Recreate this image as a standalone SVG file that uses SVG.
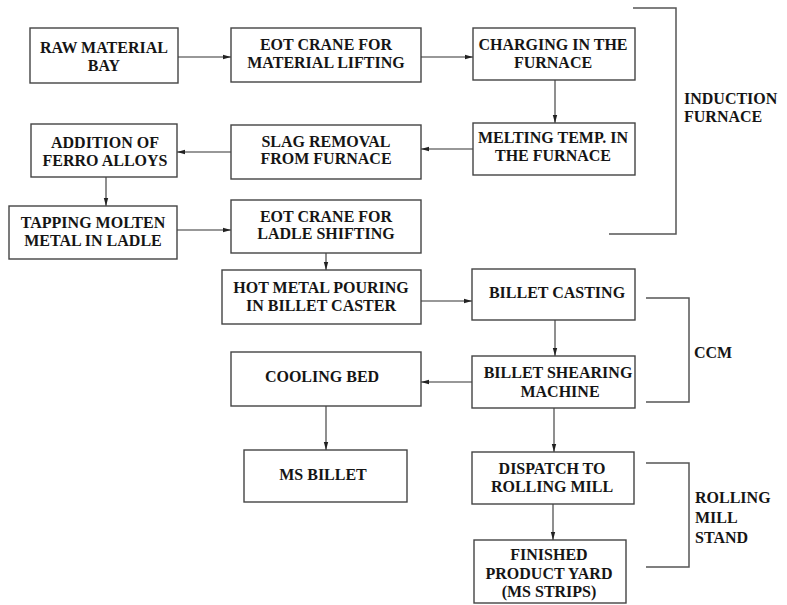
<svg xmlns="http://www.w3.org/2000/svg" width="787" height="605" viewBox="0 0 787 605">
<defs>
<style>
.box{fill:#fff;stroke:#444;stroke-width:1.4}
.t{font-family:"Liberation Serif","Times New Roman",serif;font-weight:bold;font-size:16px;fill:#151515;text-anchor:middle}
.lab{font-family:"Liberation Serif","Times New Roman",serif;font-weight:bold;font-size:16px;fill:#151515}
.c{stroke:#333;stroke-width:1.1;fill:none}
.br{stroke:#555;stroke-width:1.5;fill:none}
</style>
<marker id="ah" markerWidth="8" markerHeight="6" refX="8" refY="3" orient="auto" markerUnits="userSpaceOnUse">
<path d="M0,0.8 L8,3 L0,5.2 Z" fill="#222"/>
</marker>
</defs>
<rect width="787" height="605" fill="#fff"/>

<g id="connectors">
<line class="c" x1="178" y1="57" x2="231" y2="57" marker-end="url(#ah)"/>
<line class="c" x1="421" y1="57" x2="473" y2="57" marker-end="url(#ah)"/>
<line class="c" x1="555" y1="80" x2="555" y2="123" marker-end="url(#ah)"/>
<line class="c" x1="473" y1="149" x2="421" y2="149" marker-end="url(#ah)"/>
<line class="c" x1="231" y1="152" x2="177" y2="152" marker-end="url(#ah)"/>
<line class="c" x1="106" y1="177" x2="106" y2="206" marker-end="url(#ah)"/>
<line class="c" x1="177" y1="230" x2="231" y2="230" marker-end="url(#ah)"/>
<line class="c" x1="326" y1="253" x2="326" y2="270" marker-end="url(#ah)"/>
<line class="c" x1="421" y1="301" x2="472" y2="301" marker-end="url(#ah)"/>
<line class="c" x1="555" y1="320" x2="555" y2="356" marker-end="url(#ah)"/>
<line class="c" x1="472" y1="382" x2="421" y2="382" marker-end="url(#ah)"/>
<line class="c" x1="326" y1="406" x2="326" y2="450" marker-end="url(#ah)"/>
<line class="c" x1="554" y1="408" x2="554" y2="452" marker-end="url(#ah)"/>
<line class="c" x1="553" y1="504" x2="553" y2="540" marker-end="url(#ah)"/>
</g>

<g id="brackets">
<polyline class="br" points="633,8 676,8 676,234 609,234"/>
<polyline class="br" points="646,298 689,298 689,402 646,402"/>
<polyline class="br" points="646,463 689,463 689,567 646,567"/>
</g>

<g id="raw-material-bay">
<rect class="box" x="30" y="28" width="148" height="55"/>
<text class="t" x="104" y="53">RAW MATERIAL</text>
<text class="t" x="104" y="71">BAY</text>
</g>
<g id="eot-crane-material">
<rect class="box" x="231" y="28" width="190" height="54"/>
<text class="t" x="326" y="50">EOT CRANE FOR</text>
<text class="t" x="326" y="68">MATERIAL LIFTING</text>
</g>
<g id="charging">
<rect class="box" x="473" y="28" width="162" height="52"/>
<text class="t" x="553" y="50">CHARGING IN THE</text>
<text class="t" x="553" y="68">FURNACE</text>
</g>
<g id="melting">
<rect class="box" x="473" y="123" width="162" height="52"/>
<text class="t" x="553" y="143">MELTING TEMP. IN</text>
<text class="t" x="553" y="161">THE FURNACE</text>
</g>
<g id="slag-removal">
<rect class="box" x="231" y="125" width="190" height="54"/>
<text class="t" x="326" y="147">SLAG REMOVAL</text>
<text class="t" x="326" y="164">FROM FURNACE</text>
</g>
<g id="ferro-alloys">
<rect class="box" x="31" y="124" width="146" height="53"/>
<text class="t" x="105" y="148">ADDITION OF</text>
<text class="t" x="105" y="166">FERRO ALLOYS</text>
</g>
<g id="tapping">
<rect class="box" x="9" y="206" width="168" height="53"/>
<text class="t" x="93" y="228">TAPPING MOLTEN</text>
<text class="t" x="93" y="246">METAL IN LADLE</text>
</g>
<g id="eot-crane-ladle">
<rect class="box" x="231" y="200" width="190" height="53"/>
<text class="t" x="326" y="222">EOT CRANE FOR</text>
<text class="t" x="326" y="239">LADLE SHIFTING</text>
</g>
<g id="hot-metal-pouring">
<rect class="box" x="222" y="270" width="199" height="54"/>
<text class="t" x="321" y="293">HOT METAL POURING</text>
<text class="t" x="321" y="311">IN BILLET CASTER</text>
</g>
<g id="billet-casting">
<rect class="box" x="472" y="269" width="163" height="51"/>
<text class="t" x="557" y="298">BILLET CASTING</text>
</g>
<g id="billet-shearing">
<rect class="box" x="472" y="356" width="163" height="52"/>
<text class="t" x="558" y="378">BILLET SHEARING</text>
<text class="t" x="560" y="397">MACHINE</text>
</g>
<g id="cooling-bed">
<rect class="box" x="231" y="352" width="190" height="54"/>
<text class="t" x="322" y="382">COOLING BED</text>
</g>
<g id="ms-billet">
<rect class="box" x="244" y="450" width="163" height="52"/>
<text class="t" x="323" y="480">MS BILLET</text>
</g>
<g id="dispatch">
<rect class="box" x="472" y="452" width="162" height="52"/>
<text class="t" x="552" y="474">DISPATCH TO</text>
<text class="t" x="552" y="492">ROLLING MILL</text>
</g>
<g id="finished-product">
<rect class="box" x="474" y="540" width="152" height="63"/>
<text class="t" x="549" y="560">FINISHED</text>
<text class="t" x="549" y="579">PRODUCT YARD</text>
<text class="t" x="549" y="597">(MS STRIPS)</text>
</g>

<g id="labels">
<text class="lab" x="684" y="104">INDUCTION</text>
<text class="lab" x="684" y="122">FURNACE</text>
<text class="lab" x="694" y="358">CCM</text>
<text class="lab" x="695" y="503">ROLLING</text>
<text class="lab" x="695" y="523">MILL</text>
<text class="lab" x="695" y="543">STAND</text>
</g>
</svg>
